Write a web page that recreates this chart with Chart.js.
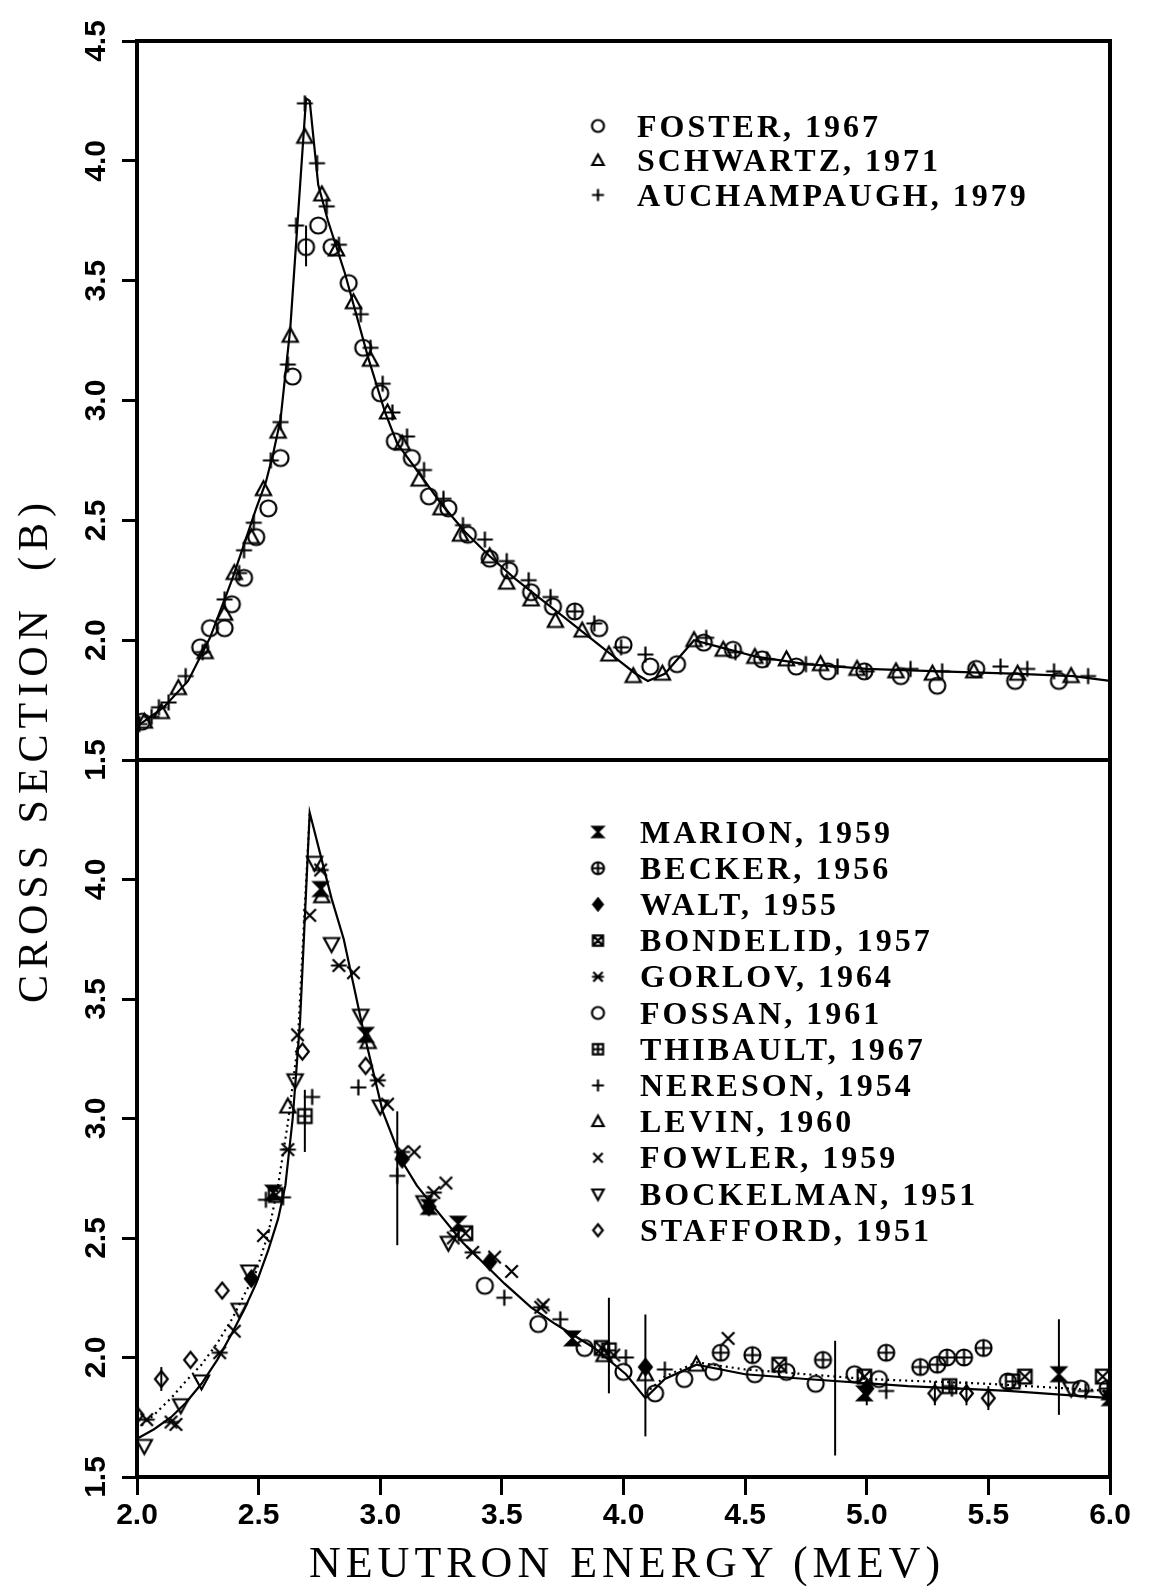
<!DOCTYPE html>
<html>
<head>
<meta charset="utf-8">
<script src="https://cdn.jsdelivr.net/npm/chart.js@4.4.1/dist/chart.umd.min.js"></script>
<style>
  html, body { margin: 0; background: #fff; }
  #wrap { position: relative; width: 1151px; height: 1586px; overflow: hidden; }
  #wrap canvas { position: absolute; left: 0; top: 0; }
  .axisTitle { position: absolute; font-family: "Liberation Serif", serif; color: #000; white-space: pre; line-height: 1; }
  #xTitle { left: 627px; top: 1541px; font-size: 44px; letter-spacing: 5px; transform: translateX(-50%); }
  #yTitle { left: 33px; top: 750px; font-size: 42px; letter-spacing: 6px; transform: translate(-50%, -50%) rotate(-90deg); }
</style>
</head>
<body>
<div id="wrap">
  <canvas id="topChart" width="1151" height="1586"></canvas>
  <canvas id="bottomChart" width="1151" height="1586"></canvas>
  <div id="xTitle" class="axisTitle">NEUTRON ENERGY (MEV)</div>
  <div id="yTitle" class="axisTitle">CROSS SECTION  (B)</div>
</div>
<script>
// ticks
const xTickValues = [2.0, 2.5, 3.0, 3.5, 4.0, 4.5, 5.0, 5.5, 6.0];
const xTickLabels = ['2.0', '2.5', '3.0', '3.5', '4.0', '4.5', '5.0', '5.5', '6.0'];
const yTickValues = [1.5, 2.0, 2.5, 3.0, 3.5, 4.0, 4.5];
const yTickLabelsTop = ['1.5', '2.0', '2.5', '3.0', '3.5', '4.0', '4.5'];
const yTickLabelsBottom = ['1.5', '2.0', '2.5', '3.0', '3.5', '4.0', ''];

// ---- top panel: [energy MeV, cross section b]
const topCurve = [[2.00,1.64],[2.11,1.72],[2.21,1.83],[2.30,2.01],[2.39,2.25],[2.44,2.40],[2.49,2.55],[2.53,2.66],[2.56,2.78],[2.59,2.92],[2.63,3.30],[2.695,4.26],[2.71,4.25],[2.745,3.90],[2.785,3.75],[2.855,3.53],[2.95,3.18],[3.02,2.95],[3.07,2.82],[3.15,2.71],[3.25,2.57],[3.35,2.45],[3.45,2.35],[3.55,2.26],[3.65,2.18],[3.75,2.10],[3.85,2.02],[3.95,1.94],[4.05,1.86],[4.10,1.83],[4.17,1.86],[4.23,1.93],[4.29,2.00],[4.40,1.97],[4.55,1.93],[4.75,1.90],[5.00,1.88],[5.30,1.87],[5.60,1.86],[5.85,1.85],[6.00,1.83]];
const foster = [[2.02,1.66],[2.26,1.97],[2.30,2.05],[2.36,2.05],[2.39,2.15],[2.44,2.26],[2.49,2.43],[2.54,2.55],[2.59,2.76],[2.64,3.10],[2.695,3.64],[2.745,3.73],[2.80,3.64],[2.87,3.49],[2.93,3.22],[3.00,3.03],[3.06,2.83],[3.13,2.76],[3.20,2.60],[3.28,2.55],[3.36,2.44],[3.45,2.34],[3.53,2.29],[3.62,2.20],[3.71,2.14],[3.80,2.12],[3.90,2.05],[4.00,1.98],[4.11,1.89],[4.22,1.90],[4.33,1.99],[4.45,1.96],[4.57,1.92],[4.71,1.89],[4.84,1.87],[4.99,1.87],[5.14,1.85],[5.29,1.81],[5.45,1.88],[5.61,1.83],[5.79,1.83]];
const schwartz = [[2.03,1.66],[2.10,1.70],[2.17,1.80],[2.28,1.95],[2.36,2.11],[2.40,2.28],[2.47,2.43],[2.52,2.63],[2.58,2.87],[2.63,3.27],[2.69,4.10],[2.76,3.86],[2.82,3.63],[2.89,3.41],[2.96,3.17],[3.03,2.95],[3.09,2.82],[3.16,2.67],[3.25,2.55],[3.33,2.44],[3.45,2.35],[3.52,2.24],[3.62,2.17],[3.72,2.08],[3.83,2.04],[3.94,1.94],[4.04,1.85],[4.16,1.86],[4.29,2.00],[4.41,1.96],[4.54,1.93],[4.67,1.92],[4.81,1.90],[4.96,1.88],[5.12,1.87],[5.27,1.86],[5.44,1.87],[5.62,1.86],[5.84,1.85]];
const auchampaugh = [[2.01,1.65],[2.06,1.68],[2.09,1.72],[2.13,1.74],[2.20,1.85],[2.27,1.95],[2.36,2.17],[2.42,2.28],[2.44,2.375],[2.48,2.49],[2.55,2.75],[2.59,2.91],[2.62,3.15],[2.654,3.73],[2.69,4.24],[2.74,3.99],[2.78,3.81],[2.83,3.65],[2.92,3.36],[2.96,3.22],[3.01,3.07],[3.05,2.95],[3.11,2.85],[3.18,2.71],[3.26,2.59],[3.34,2.48],[3.43,2.42],[3.52,2.33],[3.61,2.25],[3.70,2.18],[3.80,2.12],[3.88,2.07],[3.99,1.97],[4.09,1.94],[4.34,2.01],[4.46,1.95],[4.59,1.92],[4.75,1.90],[4.88,1.89],[5.00,1.87],[5.18,1.88],[5.31,1.87],[5.55,1.89],[5.66,1.88],[5.77,1.87],[5.91,1.85]];
const topErrors = [[2.695,3.56,3.73]];

// ---- bottom panel
const bottomCurve = [[2.00,1.66],[2.07,1.70],[2.14,1.75],[2.20,1.81],[2.265,1.89],[2.33,1.99],[2.39,2.10],[2.44,2.20],[2.49,2.31],[2.54,2.45],[2.58,2.58],[2.61,2.72],[2.64,3.00],[2.67,3.40],[2.71,4.28],[2.76,4.08],[2.80,3.92],[2.85,3.75],[2.93,3.37],[3.01,3.03],[3.09,2.82],[3.15,2.72],[3.22,2.63],[3.34,2.48],[3.51,2.31],[3.62,2.21],[3.72,2.14],[3.88,2.04],[4.01,1.93],[4.09,1.83],[4.17,1.91],[4.30,1.97],[4.50,1.93],[4.75,1.91],[5.17,1.88],[5.58,1.86],[6.00,1.83]];
const dottedLow = [[2.00,1.70],[2.07,1.76],[2.14,1.83],[2.20,1.90],[2.265,1.97],[2.33,2.06],[2.39,2.16],[2.44,2.26],[2.49,2.36],[2.54,2.52],[2.58,2.72],[2.62,2.98],[2.66,3.30],[2.71,4.28]];
const dottedHigh = [[4.09,1.85],[4.17,1.92],[4.30,1.98],[4.50,1.95],[4.75,1.93],[5.00,1.91],[5.50,1.89],[6.00,1.86]];
const marion = [[2.56,2.69],[2.755,3.96],[2.94,3.35],[3.20,2.63],[3.32,2.56],[3.79,2.08],[4.99,1.85],[5.79,1.93],[6.00,1.83]];
const becker = [[4.40,2.02],[4.53,2.01],[4.82,1.99],[5.08,2.02],[5.22,1.96],[5.29,1.97],[5.33,2.00],[5.40,2.00],[5.48,2.04],[5.99,1.87]];
const walt = [[2.47,2.33],[3.09,2.83],[3.20,2.63],[3.45,2.40],[4.09,1.96],[5.00,1.87],[6.00,1.84]];
const bondelid = [[2.57,2.68],[3.35,2.52],[3.91,2.04],[4.64,1.97],[4.99,1.92],[5.65,1.92],[5.97,1.92]];
const gorlov = [[2.04,1.74],[2.14,1.73],[2.34,2.02],[2.62,2.87],[2.755,4.04],[2.83,3.64],[2.99,3.16],[3.09,2.86],[3.22,2.69],[3.38,2.44],[3.66,2.21]];
const fossan = [[3.43,2.30],[3.65,2.14],[3.84,2.04],[4.00,1.94],[4.13,1.85],[4.25,1.91],[4.37,1.94],[4.54,1.93],[4.67,1.94],[4.79,1.89],[4.95,1.93],[5.05,1.91],[5.58,1.90],[5.88,1.87]];
const thibault = [[2.69,3.01],[3.94,2.03],[5.34,1.88],[5.60,1.90]];
const nereson = [[2.53,2.66],[2.60,2.67],[2.72,3.09],[2.91,3.13],[3.07,2.76],[3.51,2.25],[3.74,2.16],[4.01,2.00],[4.17,1.95],[5.08,1.86],[5.35,1.87],[5.90,1.86]];
const levin = [[2.62,3.05],[2.76,3.93],[2.95,3.32],[3.92,2.01],[4.09,1.93],[4.30,1.97],[6.00,1.85]];
const fowler = [[2.16,1.72],[2.40,2.11],[2.52,2.51],[2.66,3.35],[2.71,3.85],[2.89,3.61],[3.03,3.06],[3.14,2.86],[3.27,2.73],[3.30,2.50],[3.47,2.42],[3.54,2.36],[3.67,2.22],[3.96,2.01],[4.43,2.08]];
const bockelman = [[2.03,1.63],[2.18,1.80],[2.265,1.90],[2.42,2.20],[2.46,2.36],[2.65,3.16],[2.73,4.07],[2.80,3.73],[2.92,3.43],[3.00,3.05],[3.18,2.65],[3.28,2.48],[5.84,1.87]];
const stafford = [[2.00,1.76],[2.10,1.91],[2.22,1.99],[2.35,2.28],[2.68,3.28],[2.94,3.22],[5.28,1.85],[5.41,1.85],[5.50,1.83]];
const bottomErrors = [[2.69,2.86,3.12],[3.07,2.47,3.03],[3.94,1.85,2.25],[4.09,1.67,2.18],[4.87,1.59,2.07],[5.00,1.80,1.91],[5.79,1.76,2.16],[2.10,1.86,1.96],[5.28,1.80,1.90],[5.41,1.80,1.90],[5.50,1.78,1.88]];

// marker glyphs drawn into small canvases, used as pointStyle
function drawGlyph(g, kind, m, r) {
  g.beginPath();
  if (kind === 'circle') {
    g.arc(m, m, r, 0, Math.PI * 2);
  } else if (kind === 'triangle') {
    g.moveTo(m, m - r); g.lineTo(m + r * 0.95, m + r * 0.75); g.lineTo(m - r * 0.95, m + r * 0.75); g.closePath();
  } else if (kind === 'triangleDown') {
    g.moveTo(m, m + r); g.lineTo(m + r * 0.95, m - r * 0.75); g.lineTo(m - r * 0.95, m - r * 0.75); g.closePath();
  } else if (kind === 'plus') {
    g.moveTo(m - r, m); g.lineTo(m + r, m); g.moveTo(m, m - r); g.lineTo(m, m + r);
  } else if (kind === 'cross' || kind === 'crossBar') {
    const d = r * 0.78;
    g.moveTo(m - d, m - d); g.lineTo(m + d, m + d); g.moveTo(m + d, m - d); g.lineTo(m - d, m + d);
    if (kind === 'crossBar') { g.moveTo(m - r, m); g.lineTo(m + r, m); }
  } else if (kind === 'diamond' || kind === 'diamondFill') {
    g.moveTo(m, m - r); g.lineTo(m + r * 0.8, m); g.lineTo(m, m + r); g.lineTo(m - r * 0.8, m); g.closePath();
    if (kind === 'diamondFill') g.fill();
  } else if (kind === 'circlePlus') {
    g.arc(m, m, r, 0, Math.PI * 2);
    g.moveTo(m - r, m); g.lineTo(m + r, m); g.moveTo(m, m - r); g.lineTo(m, m + r);
  } else if (kind === 'boxX' || kind === 'boxPlus') {
    const d = r * 0.85;
    g.rect(m - d, m - d, 2 * d, 2 * d);
    if (kind === 'boxX') { g.moveTo(m - d, m - d); g.lineTo(m + d, m + d); g.moveTo(m + d, m - d); g.lineTo(m - d, m + d); }
    else { g.moveTo(m - d, m); g.lineTo(m + d, m); g.moveTo(m, m - d); g.lineTo(m, m + d); }
  } else if (kind === 'hourglass') {
    const d = r * 0.85;
    g.moveTo(m - d, m - d); g.lineTo(m + d, m - d); g.lineTo(m, m); g.closePath();
    g.moveTo(m - d, m + d); g.lineTo(m + d, m + d); g.lineTo(m, m); g.closePath();
    g.fill();
  }
  g.stroke();
}

function makeMarker(kind, r, lw) {
  const c = document.createElement('canvas');
  const s = Math.ceil(2 * r + lw + 4);
  c.width = s; c.height = s;
  const g = c.getContext('2d');
  g.strokeStyle = '#000'; g.fillStyle = '#000'; g.lineWidth = lw;
  drawGlyph(g, kind, s / 2, r);
  return c;
}

function pts(arr) { return arr.map(p => ({ x: p[0], y: p[1] })); }

function scatterSet(label, data, kind) {
  return {
    type: 'scatter', label: label, data: pts(data),
    pointStyle: makeMarker(kind, 8, 2.2), pointRadius: 8, showLine: false
  };
}

function lineSet(data, dash) {
  return {
    type: 'line', data: pts(data), borderColor: '#000', borderWidth: 2.2,
    borderDash: dash || [], pointRadius: 0, tension: 0, fill: false
  };
}

const framePlugin = {
  id: 'frame',
  afterDraw(chart) {
    const a = chart.chartArea, ctx = chart.ctx;
    ctx.save();
    ctx.strokeStyle = '#000'; ctx.lineWidth = 4;
    ctx.strokeRect(a.left, a.top, a.right - a.left, a.bottom - a.top);
    ctx.restore();
  }
};

const errorBarPlugin = {
  id: 'errorBars',
  afterDatasetsDraw(chart, args, opts) {
    const x = chart.scales.x, y = chart.scales.y, ctx = chart.ctx;
    ctx.save();
    ctx.strokeStyle = '#000'; ctx.lineWidth = 2;
    (opts.bars || []).forEach(b => {
      const px = x.getPixelForValue(b[0]);
      ctx.beginPath();
      ctx.moveTo(px, y.getPixelForValue(b[1]));
      ctx.lineTo(px, y.getPixelForValue(b[2]));
      ctx.stroke();
    });
    ctx.restore();
  }
};

const legendPlugin = {
  id: 'markLegend',
  afterDraw(chart, args, opts) {
    const ctx = chart.ctx;
    ctx.save();
    ctx.fillStyle = '#000';
    ctx.font = 'bold 32px "Liberation Serif", serif';
    if ('letterSpacing' in ctx) ctx.letterSpacing = '3px';
    ctx.textBaseline = 'alphabetic';
    (opts.items || []).forEach((it, i) => {
      const cy = opts.y0 + i * opts.step;
      const mk = makeMarker(it.kind, 6, 2.2);
      ctx.drawImage(mk, opts.markerX - mk.width / 2, cy - mk.height / 2);
      ctx.fillText(it.label, opts.textX, cy + 10.5);
    });
    ctx.restore();
  }
};

const tickFont = { family: '"Liberation Sans", Arial, sans-serif', size: 30, weight: 'bold' };

function yScale(labels) {
  return {
    type: 'linear', position: 'left', min: 1.5, max: 4.5,
    afterBuildTicks: s => { s.ticks = yTickValues.map(v => ({ value: v })); },
    ticks: {
      callback: (v, i) => labels[i], font: tickFont, color: '#000',
      minRotation: 90, maxRotation: 90, crossAlign: 'center', padding: 4
    },
    grid: { drawOnChartArea: false, drawTicks: true, tickLength: 15, tickWidth: 3, tickColor: '#000' },
    border: { display: false },
    afterFit: s => { s.width = 137; }
  };
}

const baseOptions = {
  responsive: false, animation: false, devicePixelRatio: 1,
  plugins: { legend: { display: false }, tooltip: { enabled: false } }
};

new Chart(document.getElementById('topChart'), {
  data: {
    datasets: [
      lineSet(topCurve),
      scatterSet('FOSTER, 1967', foster, 'circle'),
      scatterSet('SCHWARTZ, 1971', schwartz, 'triangle'),
      scatterSet('AUCHAMPAUGH, 1979', auchampaugh, 'plus')
    ]
  },
  options: Object.assign({}, baseOptions, {
    layout: { padding: { left: 0, right: 41, top: 41, bottom: 826 } },
    scales: {
      x: { type: 'linear', min: 2, max: 6, display: false },
      y: yScale(yTickLabelsTop)
    },
    plugins: Object.assign({}, baseOptions.plugins, {
      errorBars: { bars: topErrors },
      markLegend: {
        markerX: 598, textX: 637, y0: 126, step: 34.5,
        items: [
          { label: 'FOSTER, 1967', kind: 'circle' },
          { label: 'SCHWARTZ, 1971', kind: 'triangle' },
          { label: 'AUCHAMPAUGH, 1979', kind: 'plus' }
        ]
      }
    })
  }),
  plugins: [framePlugin, errorBarPlugin, legendPlugin]
});

new Chart(document.getElementById('bottomChart'), {
  data: {
    datasets: [
      lineSet(bottomCurve),
      lineSet(dottedLow, [2, 4]),
      lineSet(dottedHigh, [2, 4]),
      scatterSet('MARION, 1959', marion, 'hourglass'),
      scatterSet('BECKER, 1956', becker, 'circlePlus'),
      scatterSet('WALT, 1955', walt, 'diamondFill'),
      scatterSet('BONDELID, 1957', bondelid, 'boxX'),
      scatterSet('GORLOV, 1964', gorlov, 'crossBar'),
      scatterSet('FOSSAN, 1961', fossan, 'circle'),
      scatterSet('THIBAULT, 1967', thibault, 'boxPlus'),
      scatterSet('NERESON, 1954', nereson, 'plus'),
      scatterSet('LEVIN, 1960', levin, 'triangle'),
      scatterSet('FOWLER, 1959', fowler, 'cross'),
      scatterSet('BOCKELMAN, 1951', bockelman, 'triangleDown'),
      scatterSet('STAFFORD, 1951', stafford, 'diamond')
    ]
  },
  options: Object.assign({}, baseOptions, {
    layout: { padding: { left: 0, right: 41, top: 760, bottom: 0 } },
    scales: {
      x: {
        type: 'linear', position: 'bottom', min: 2, max: 6,
        afterBuildTicks: s => { s.ticks = xTickValues.map(v => ({ value: v })); },
        ticks: { callback: (v, i) => xTickLabels[i], font: tickFont, color: '#000', maxRotation: 0, padding: 3 },
        grid: { drawOnChartArea: false, drawTicks: true, tickLength: 18, tickWidth: 3, tickColor: '#000' },
        border: { display: false },
        afterFit: s => { s.height = 109; }
      },
      y: yScale(yTickLabelsBottom)
    },
    plugins: Object.assign({}, baseOptions.plugins, {
      errorBars: { bars: bottomErrors },
      markLegend: {
        markerX: 598, textX: 640, y0: 832, step: 36.2,
        items: [
          { label: 'MARION, 1959', kind: 'hourglass' },
          { label: 'BECKER, 1956', kind: 'circlePlus' },
          { label: 'WALT, 1955', kind: 'diamondFill' },
          { label: 'BONDELID, 1957', kind: 'boxX' },
          { label: 'GORLOV, 1964', kind: 'crossBar' },
          { label: 'FOSSAN, 1961', kind: 'circle' },
          { label: 'THIBAULT, 1967', kind: 'boxPlus' },
          { label: 'NERESON, 1954', kind: 'plus' },
          { label: 'LEVIN, 1960', kind: 'triangle' },
          { label: 'FOWLER, 1959', kind: 'cross' },
          { label: 'BOCKELMAN, 1951', kind: 'triangleDown' },
          { label: 'STAFFORD, 1951', kind: 'diamond' }
        ]
      }
    })
  }),
  plugins: [framePlugin, errorBarPlugin, legendPlugin]
});
</script>
</body>
</html>
